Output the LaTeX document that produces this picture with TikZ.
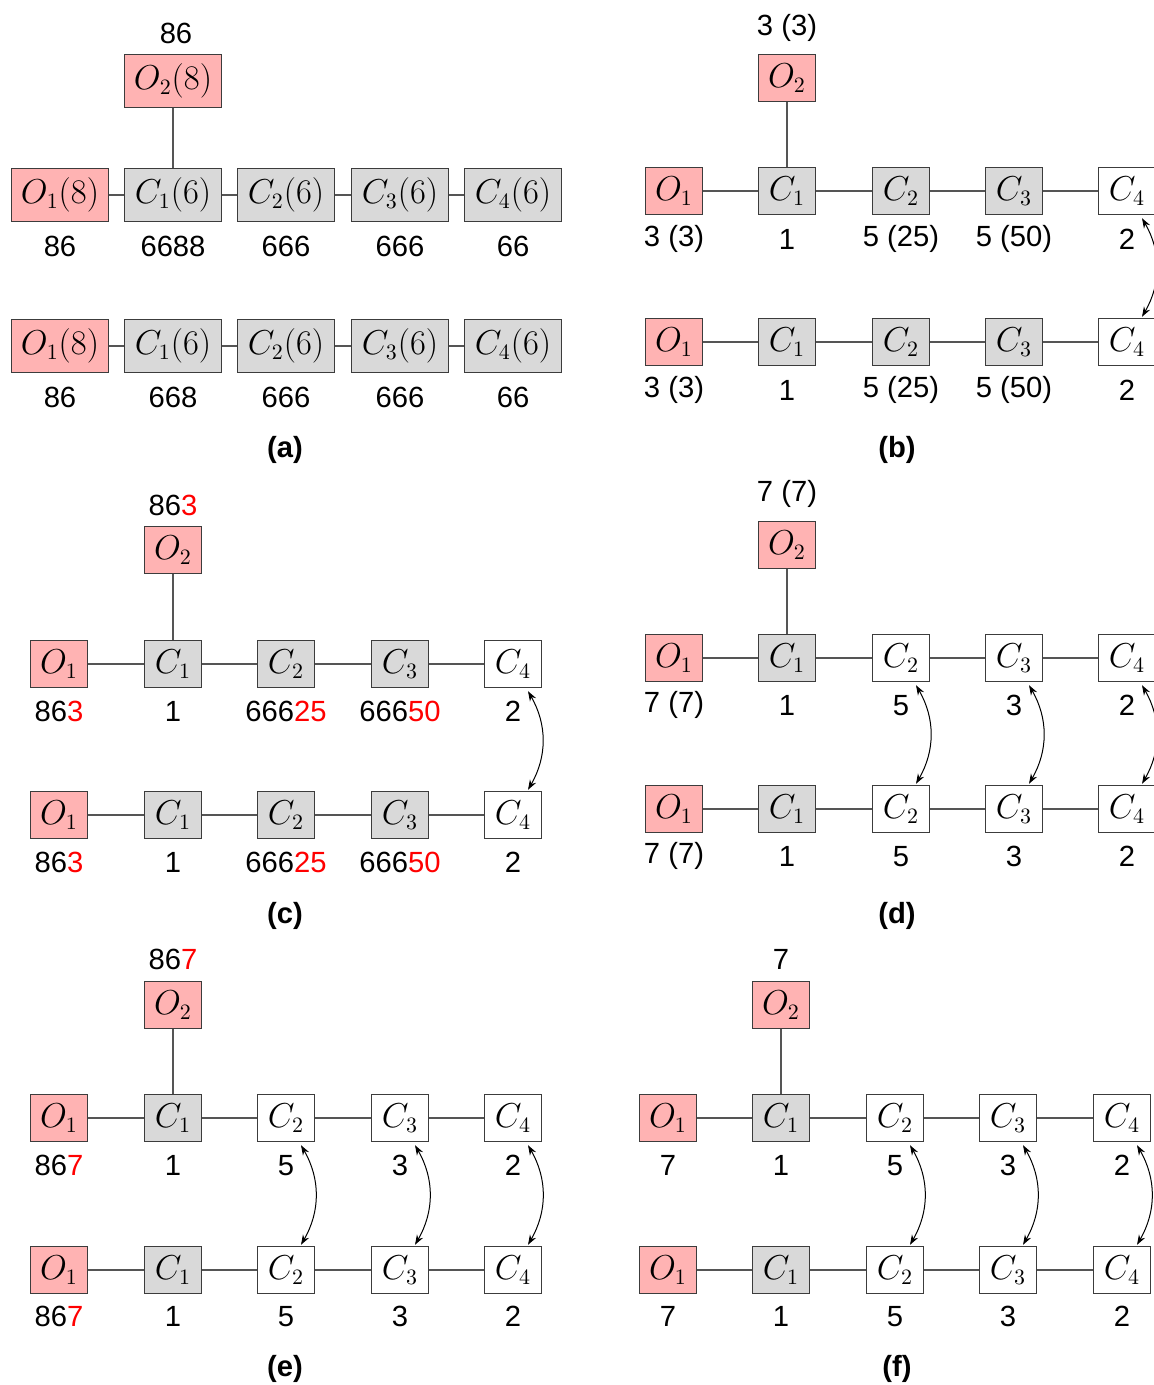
\documentclass[tikz,border=0pt]{standalone}
\usepackage{fontspec}
\newfontfamily\labfont{Liberation Sans}
\usetikzlibrary{arrows.meta}
\definecolor{opink}{RGB}{255,179,179}
\definecolor{cgray}{RGB}{217,217,217}
\definecolor{edgec}{RGB}{60,60,60}
\definecolor{wire}{RGB}{85,85,85}
\newcommand\hl[1]{\textcolor{red}{#1}}
% a box with its value written underneath
\newcommand\cell[7]{%
  \node[#4] (#1) at (#2,#3) {#5};
  \node[lab] (#1v) at (#2,#7) {#6};}
\tikzset{
  box/.style={draw=edgec, line width=0.7pt, inner sep=0pt,
    minimum width=28.5pt, minimum height=23.5pt,
    font=\fontsize{16}{19}\selectfont},
  wide/.style={minimum width=48.5pt, minimum height=26.5pt},
  obox/.style={box, fill=opink},
  cbox/.style={box, fill=cgray},
  wbox/.style={box, fill=white},
  lab/.style={inner sep=0pt, yshift=-0.6pt, font=\labfont\fontsize{14.6}{17}\selectfont},
  captext/.style={inner sep=0pt, yshift=-0.6pt, font=\labfont\bfseries\fontsize{14.6}{17}\selectfont},
  wire/.style={draw=wire, line width=0.7pt},
  swap/.style={<->, >={Stealth[length=5pt,width=3.5pt]}, line width=0.5pt, bend left=30},
}
\begin{document}
\begin{tikzpicture}[x=0.5pt,y=-0.5pt]
\useasboundingbox (0,0) rectangle (1154,1385);
\clip (0,0) rectangle (1154,1385);

% ---------- (a) ----------
\node[obox,wide] (aO2) at (173,81) {$O_2(8)$};
\node[lab] (aO2v) at (176,32) {86};
\cell{aAo}{60}{195}{obox,wide}{$O_1(8)$}{86}{245}
\cell{aAa}{173}{195}{cbox,wide}{$C_1(6)$}{6688}{245}
\cell{aAb}{286}{195}{cbox,wide}{$C_2(6)$}{666}{245}
\cell{aAc}{400}{195}{cbox,wide}{$C_3(6)$}{666}{245}
\cell{aAd}{513}{195}{cbox,wide}{$C_4(6)$}{66}{245}
\cell{aBo}{60}{346}{obox,wide}{$O_1(8)$}{86}{396}
\cell{aBa}{173}{346}{cbox,wide}{$C_1(6)$}{668}{396}
\cell{aBb}{286}{346}{cbox,wide}{$C_2(6)$}{666}{396}
\cell{aBc}{400}{346}{cbox,wide}{$C_3(6)$}{666}{396}
\cell{aBd}{513}{346}{cbox,wide}{$C_4(6)$}{66}{396}
\draw[wire] (aO2) -- (aAa);
\draw[wire] (aAo) -- (aAa) -- (aAb) -- (aAc) -- (aAd);
\draw[wire] (aBo) -- (aBa) -- (aBb) -- (aBc) -- (aBd);
\node[captext] (capa) at (285,449) {(a)};

% ---------- (b) ----------
\node[obox] (bO2) at (787,78) {$O_2$};
\node[lab] (bO2v) at (787,27) {3 (3)};
\cell{bAo}{674}{191}{obox}{$O_1$}{3 (3)}{238}
\cell{bAa}{787}{191}{cbox}{$C_1$}{1}{238}
\cell{bAb}{901}{191}{cbox}{$C_2$}{5 (25)}{238}
\cell{bAc}{1014}{191}{cbox}{$C_3$}{5 (50)}{238}
\cell{bAd}{1127}{191}{wbox}{$C_4$}{2}{238}
\cell{bBo}{674}{342}{obox}{$O_1$}{3 (3)}{389}
\cell{bBa}{787}{342}{cbox}{$C_1$}{1}{389}
\cell{bBb}{901}{342}{cbox}{$C_2$}{5 (25)}{389}
\cell{bBc}{1014}{342}{cbox}{$C_3$}{5 (50)}{389}
\cell{bBd}{1127}{342}{wbox}{$C_4$}{2}{389}
\draw[wire] (bO2) -- (bAa);
\draw[wire] (bAo) -- (bAa) -- (bAb) -- (bAc) -- (bAd);
\draw[wire] (bBo) -- (bBa) -- (bBb) -- (bBc) -- (bBd);
\draw[swap] ([xshift=7.5pt,yshift=-1.5pt]bAd.south) to ([xshift=7.5pt,yshift=0.5pt]bBd.north);
\node[captext] (capb) at (897,449) {(b)};

% ---------- (c) ----------
\node[obox] (cO2) at (173,550) {$O_2$};
\node[lab] (cO2v) at (173,504) {86\hl{3}};
\cell{cAo}{59}{664}{obox}{$O_1$}{86\hl{3}}{710}
\cell{cAa}{173}{664}{cbox}{$C_1$}{1}{710}
\cell{cAb}{286}{664}{cbox}{$C_2$}{666\hl{25}}{710}
\cell{cAc}{400}{664}{cbox}{$C_3$}{666\hl{50}}{710}
\cell{cAd}{513}{664}{wbox}{$C_4$}{2}{710}
\cell{cBo}{59}{815}{obox}{$O_1$}{86\hl{3}}{861}
\cell{cBa}{173}{815}{cbox}{$C_1$}{1}{861}
\cell{cBb}{286}{815}{cbox}{$C_2$}{666\hl{25}}{861}
\cell{cBc}{400}{815}{cbox}{$C_3$}{666\hl{50}}{861}
\cell{cBd}{513}{815}{wbox}{$C_4$}{2}{861}
\draw[wire] (cO2) -- (cAa);
\draw[wire] (cAo) -- (cAa) -- (cAb) -- (cAc) -- (cAd);
\draw[wire] (cBo) -- (cBa) -- (cBb) -- (cBc) -- (cBd);
\draw[swap] ([xshift=7.5pt,yshift=-1.5pt]cAd.south) to ([xshift=7.5pt,yshift=0.5pt]cBd.north);
\node[captext] (capc) at (285,915) {(c)};

% ---------- (d) ----------
\node[obox] (dO2) at (787,545) {$O_2$};
\node[lab] (dO2v) at (787,493) {7 (7)};
\cell{dAo}{674}{658}{obox}{$O_1$}{7 (7)}{704}
\cell{dAa}{787}{658}{cbox}{$C_1$}{1}{704}
\cell{dAb}{901}{658}{wbox}{$C_2$}{5}{704}
\cell{dAc}{1014}{658}{wbox}{$C_3$}{3}{704}
\cell{dAd}{1127}{658}{wbox}{$C_4$}{2}{704}
\cell{dBo}{674}{809}{obox}{$O_1$}{7 (7)}{855}
\cell{dBa}{787}{809}{cbox}{$C_1$}{1}{855}
\cell{dBb}{901}{809}{wbox}{$C_2$}{5}{855}
\cell{dBc}{1014}{809}{wbox}{$C_3$}{3}{855}
\cell{dBd}{1127}{809}{wbox}{$C_4$}{2}{855}
\draw[wire] (dO2) -- (dAa);
\draw[wire] (dAo) -- (dAa) -- (dAb) -- (dAc) -- (dAd);
\draw[wire] (dBo) -- (dBa) -- (dBb) -- (dBc) -- (dBd);
\foreach \k in {b,c,d}
  \draw[swap] ([xshift=7.5pt,yshift=-1.5pt]dA\k.south) to ([xshift=7.5pt,yshift=0.5pt]dB\k.north);
\node[captext] (capd) at (897,915) {(d)};

% ---------- (e) ----------
\node[obox] (eO2) at (173,1005) {$O_2$};
\node[lab] (eO2v) at (173,958) {86\hl{7}};
\cell{eAo}{59}{1118}{obox}{$O_1$}{86\hl{7}}{1164}
\cell{eAa}{173}{1118}{cbox}{$C_1$}{1}{1164}
\cell{eAb}{286}{1118}{wbox}{$C_2$}{5}{1164}
\cell{eAc}{400}{1118}{wbox}{$C_3$}{3}{1164}
\cell{eAd}{513}{1118}{wbox}{$C_4$}{2}{1164}
\cell{eBo}{59}{1270}{obox}{$O_1$}{86\hl{7}}{1315}
\cell{eBa}{173}{1270}{cbox}{$C_1$}{1}{1315}
\cell{eBb}{286}{1270}{wbox}{$C_2$}{5}{1315}
\cell{eBc}{400}{1270}{wbox}{$C_3$}{3}{1315}
\cell{eBd}{513}{1270}{wbox}{$C_4$}{2}{1315}
\draw[wire] (eO2) -- (eAa);
\draw[wire] (eAo) -- (eAa) -- (eAb) -- (eAc) -- (eAd);
\draw[wire] (eBo) -- (eBa) -- (eBb) -- (eBc) -- (eBd);
\foreach \k in {b,c,d}
  \draw[swap] ([xshift=7.5pt,yshift=-1.5pt]eA\k.south) to ([xshift=7.5pt,yshift=0.5pt]eB\k.north);
\node[captext] (cape) at (285,1368) {(e)};

% ---------- (f) ----------
\node[obox] (fO2) at (781,1005) {$O_2$};
\node[lab] (fO2v) at (781,958) {7};
\cell{fAo}{668}{1118}{obox}{$O_1$}{7}{1164}
\cell{fAa}{781}{1118}{cbox}{$C_1$}{1}{1164}
\cell{fAb}{895}{1118}{wbox}{$C_2$}{5}{1164}
\cell{fAc}{1008}{1118}{wbox}{$C_3$}{3}{1164}
\cell{fAd}{1122}{1118}{wbox}{$C_4$}{2}{1164}
\cell{fBo}{668}{1270}{obox}{$O_1$}{7}{1315}
\cell{fBa}{781}{1270}{cbox}{$C_1$}{1}{1315}
\cell{fBb}{895}{1270}{wbox}{$C_2$}{5}{1315}
\cell{fBc}{1008}{1270}{wbox}{$C_3$}{3}{1315}
\cell{fBd}{1122}{1270}{wbox}{$C_4$}{2}{1315}
\draw[wire] (fO2) -- (fAa);
\draw[wire] (fAo) -- (fAa) -- (fAb) -- (fAc) -- (fAd);
\draw[wire] (fBo) -- (fBa) -- (fBb) -- (fBc) -- (fBd);
\foreach \k in {b,c,d}
  \draw[swap] ([xshift=7.5pt,yshift=-1.5pt]fA\k.south) to ([xshift=7.5pt,yshift=0.5pt]fB\k.north);
\node[captext] (capf) at (897,1368) {(f)};
\end{tikzpicture}
\end{document}
